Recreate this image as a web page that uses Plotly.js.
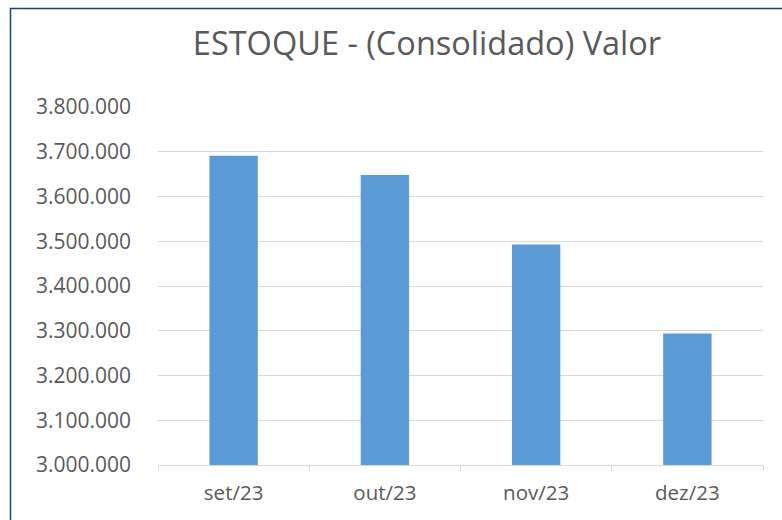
<!DOCTYPE html>
<html>
<head>
<meta charset="utf-8">
<script src="https://cdn.plot.ly/plotly-3.0.1.min.js"></script>
<style>html,body{margin:0;padding:0;background:#fff;}#chart{width:782px;height:520px;}</style>
</head>
<body>
<div id="chart"></div>
<script>
const categories = ["set/23", "out/23", "nov/23", "dez/23"];
const values = [3691000, 3648000, 3493000, 3294000];
const yTickValues = [3000000, 3100000, 3200000, 3300000, 3400000, 3500000, 3600000, 3700000, 3800000];
const chartTitle = "ESTOQUE - (Consolidado) Valor";

const FONT = "Open Sans, Noto Sans, sans-serif";
const trace = {
  type: "bar",
  x: categories,
  y: values,
  marker: {color: "#5b9bd5", line: {width: 0}},
  hoverinfo: "x+y"
};
const layout = {
  width: 782, height: 520,
  margin: {l: 158, r: 19, t: 107, b: 55, pad: 0},
  paper_bgcolor: "#ffffff",
  plot_bgcolor: "#ffffff",
  separators: ",.",
  bargap: 0.68,
  showlegend: false,
  font: {family: FONT, color: "#595959", size: 21},
  title: {
    text: chartTitle,
    font: {family: FONT, size: 32.5, color: "#595959"},
    x: 427/782, xref: "container", xanchor: "center",
    y: 1 - 44/520, yref: "container", yanchor: "middle"
  },
  xaxis: {
    type: "category",
    showgrid: false,
    showline: true, linecolor: "#d9d9d9", linewidth: 1,
    ticks: "outside", tickson: "boundaries", ticklen: 5, tickcolor: "#d9d9d9",
    tickfont: {family: FONT, size: 20.5, color: "#595959"},
    ticklabelstandoff: 9,
    fixedrange: true
  },
  yaxis: {
    range: [3000000, 3800000],
    tickvals: yTickValues,
    tickformat: ",d",
    showgrid: true, gridcolor: "#d9d9d9", gridwidth: 1,
    zeroline: false, showline: false,
    ticks: "",
    tickfont: {family: FONT, size: 21, color: "#595959"},
    ticklabelstandoff: 26,
    fixedrange: true
  },
  shapes: [{
    type: "rect", xref: "paper", yref: "paper",
    x0: (10.5 - 158) / 605, x1: 1.3,
    y0: -0.3, y1: (465 - 8.5) / 358,
    line: {color: "#203d85", width: 1.5},
    fillcolor: "rgba(0,0,0,0)",
    layer: "above"
  }]
};
Plotly.newPlot("chart", [trace], layout, {displayModeBar: false, staticPlot: true});
</script>
</body>
</html>
